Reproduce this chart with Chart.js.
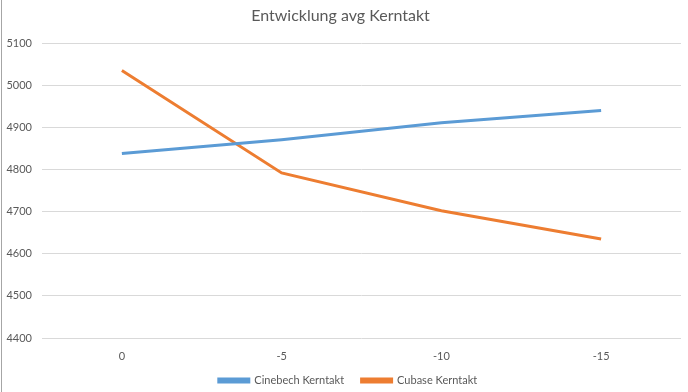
<!DOCTYPE html>
<html>
<head>
<meta charset="utf-8">
<script src="https://cdn.jsdelivr.net/npm/chart.js@4"></script>
<style>
  html, body { margin: 0; padding: 0; background: #fff; }
  #wrap { width: 688px; height: 392px; position: relative; }
  #edge { position: absolute; left: 1px; top: 0; width: 1px; height: 392px; background: #a6a6a6; }
</style>
</head>
<body>
<div id="wrap"><canvas id="chart"></canvas><div id="edge"></div></div>
<script>
const categories = ['0', '-5', '-10', '-15'];
const cinebench = [4838, 4871, 4911, 4940];
const cubase = [5035, 4792, 4702, 4635];
const yMin = 4400;
const yMax = 5100;
const yStep = 100;

// nudge the legend to sit where Excel puts it
const legendShift = {
    id: 'legendShift',
    afterLayout(chart) {
        const lg = chart.legend;
        lg.left += 7.5;
        lg.right += 7.5;
        lg.top += 4;
        lg.bottom += 4;
    }
};

const ctx = document.getElementById('chart').getContext('2d');
new Chart(ctx, {
    type: 'line',
    data: {
        labels: categories,
        datasets: [{
            label: 'Cinebech Kerntakt\u2002\u2002\u2002',
            data: cinebench,
            borderColor: '#5b9bd5',
            backgroundColor: '#5b9bd5',
            borderWidth: 3,
            pointRadius: 0,
            tension: 0
        }, {
            label: 'Cubase Kerntakt',
            data: cubase,
            borderColor: '#ed7d31',
            backgroundColor: '#ed7d31',
            borderWidth: 3,
            pointRadius: 0,
            tension: 0
        }]
    },
    plugins: [legendShift],
    options: {
        responsive: true,
        maintainAspectRatio: false,
        animation: false,
        layout: { padding: { left: 0, right: 7, top: 4, bottom: 0 } },
        scales: {
            x: {
                offset: true,
                grid: { display: false },
                border: { display: false },
                ticks: { color: '#595959', font: { family: 'Lato', size: 11 }, padding: 4 },
                afterFit: (s) => { s.height = 32; }
            },
            y: {
                min: yMin,
                max: yMax,
                ticks: {
                    stepSize: yStep,
                    color: '#595959',
                    font: { family: 'Lato', size: 11 },
                    padding: 10,
                    callback: (v) => String(v)
                },
                grid: { color: '#d9d9d9', drawTicks: false },
                border: { display: false },
                afterFit: (s) => { s.width = 42; }
            }
        },
        plugins: {
            title: {
                display: true,
                text: 'Entwicklung avg Kerntakt',
                color: '#595959',
                font: { family: 'Lato', size: 16, weight: 'normal' },
                padding: { top: 2, bottom: 18 }
            },
            legend: {
                position: 'bottom',
                labels: {
                    color: '#595959',
                    font: { family: 'Lato', size: 11 },
                    boxWidth: 30,
                    boxHeight: 3,
                    padding: 1
                }
            },
            tooltip: { enabled: false }
        }
    }
});
</script>
</body>
</html>
